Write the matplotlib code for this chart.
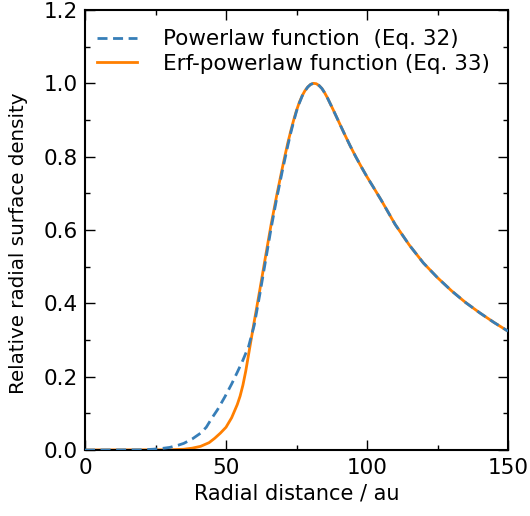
import matplotlib
matplotlib.use("Agg")
import matplotlib.pyplot as plt
from matplotlib.ticker import MultipleLocator

# Read-off values (radial distance in au, relative surface density)
x_pl = [0, 20, 24, 27, 30, 33, 35, 38, 41, 43, 45, 47, 49.6, 52, 54, 56, 58,
        60, 62, 64, 66, 68, 70, 72, 73, 74, 75, 76, 77, 78, 79, 80, 81, 82,
        83, 84, 85, 86, 88, 90,
        92, 94, 96, 98, 100, 102, 105, 110, 115, 120, 125, 130, 135, 140, 145, 150]
y_pl = [0.0, 0.0005, 0.002, 0.004, 0.007, 0.013, 0.018, 0.03, 0.046, 0.062,
        0.087, 0.11, 0.145, 0.18, 0.212, 0.245, 0.282,
        0.34, 0.425, 0.515, 0.605, 0.687, 0.762, 0.833, 0.866, 0.896, 0.924,
        0.946, 0.965, 0.979, 0.99, 0.997, 1.0, 0.999,
        0.994, 0.986, 0.974, 0.96, 0.928, 0.895, 0.862, 0.83, 0.80,
        0.772, 0.745, 0.72, 0.682, 0.615, 0.559, 0.51, 0.47, 0.434, 0.402,
        0.374, 0.348, 0.324]

x_erf = [0, 30, 35, 38, 41, 44, 46, 48, 50, 52, 54, 55, 56, 57, 58, 59,
         60, 62, 64, 66, 68, 70, 71, 72, 73, 74, 75, 76, 77, 78, 79, 80, 81, 82,
         83, 84, 85, 86, 88, 90,
         92, 94, 96, 98, 100, 102, 105, 110, 115, 120, 125, 130, 135, 140, 145, 150]
y_erf = [0.0, 0.0005, 0.002, 0.005, 0.01, 0.02, 0.032, 0.046, 0.062, 0.088,
         0.124, 0.147, 0.177, 0.215, 0.26, 0.305,
         0.35, 0.437, 0.527, 0.615, 0.695, 0.77, 0.806, 0.84, 0.871, 0.90,
         0.926, 0.948, 0.966, 0.98, 0.99, 0.997, 1.0, 0.999,
         0.994, 0.986, 0.974, 0.96, 0.928, 0.895, 0.862, 0.83, 0.80,
         0.772, 0.745, 0.72, 0.682, 0.615, 0.559, 0.51, 0.47, 0.434, 0.402,
         0.374, 0.348, 0.324]

label_pl = "Powerlaw function  (Eq. 32)"
label_erf = "Erf-powerlaw function (Eq. 33)"

fig = plt.figure(figsize=(5.30, 5.16), dpi=100)
ax = fig.add_axes([85/530, 66/516, 423/530, 440/516])

ax.plot(x_pl, y_pl, color="#377eb8", ls=(0, (3.6, 2.0)), lw=2.0,
        label=label_pl, zorder=3)
ax.plot(x_erf, y_erf, color="#ff7f00", ls="-", lw=2.0, label=label_erf, zorder=2)

ax.set_xlim(0, 150)
ax.set_ylim(0, 1.2)
ax.xaxis.set_major_locator(MultipleLocator(50))
ax.xaxis.set_minor_locator(MultipleLocator(25))
ax.yaxis.set_major_locator(MultipleLocator(0.2))
ax.yaxis.set_minor_locator(MultipleLocator(0.1))
ax.tick_params(which="both", direction="in", top=True, right=True,
               labelsize=15.5, width=1.0)
ax.tick_params(axis="x", which="major", length=7, pad=6)
ax.tick_params(axis="y", which="major", length=7, pad=5)
ax.tick_params(which="minor", length=3.5)
for s in ax.spines.values():
    s.set_linewidth(1.5)

ax.set_xlabel("Radial distance / au", fontsize=15, labelpad=4)
ax.set_ylabel("Relative radial surface density", fontsize=14.3)
ax.yaxis.set_label_coords(-0.135, 0.47)

ax.legend(loc="upper left", frameon=False, fontsize=15.5, handlelength=1.85,
          handletextpad=1.2, borderaxespad=0.5, labelspacing=0.2,
          bbox_to_anchor=(-0.017, 1.0))

fig.savefig("out.png", dpi=100)
